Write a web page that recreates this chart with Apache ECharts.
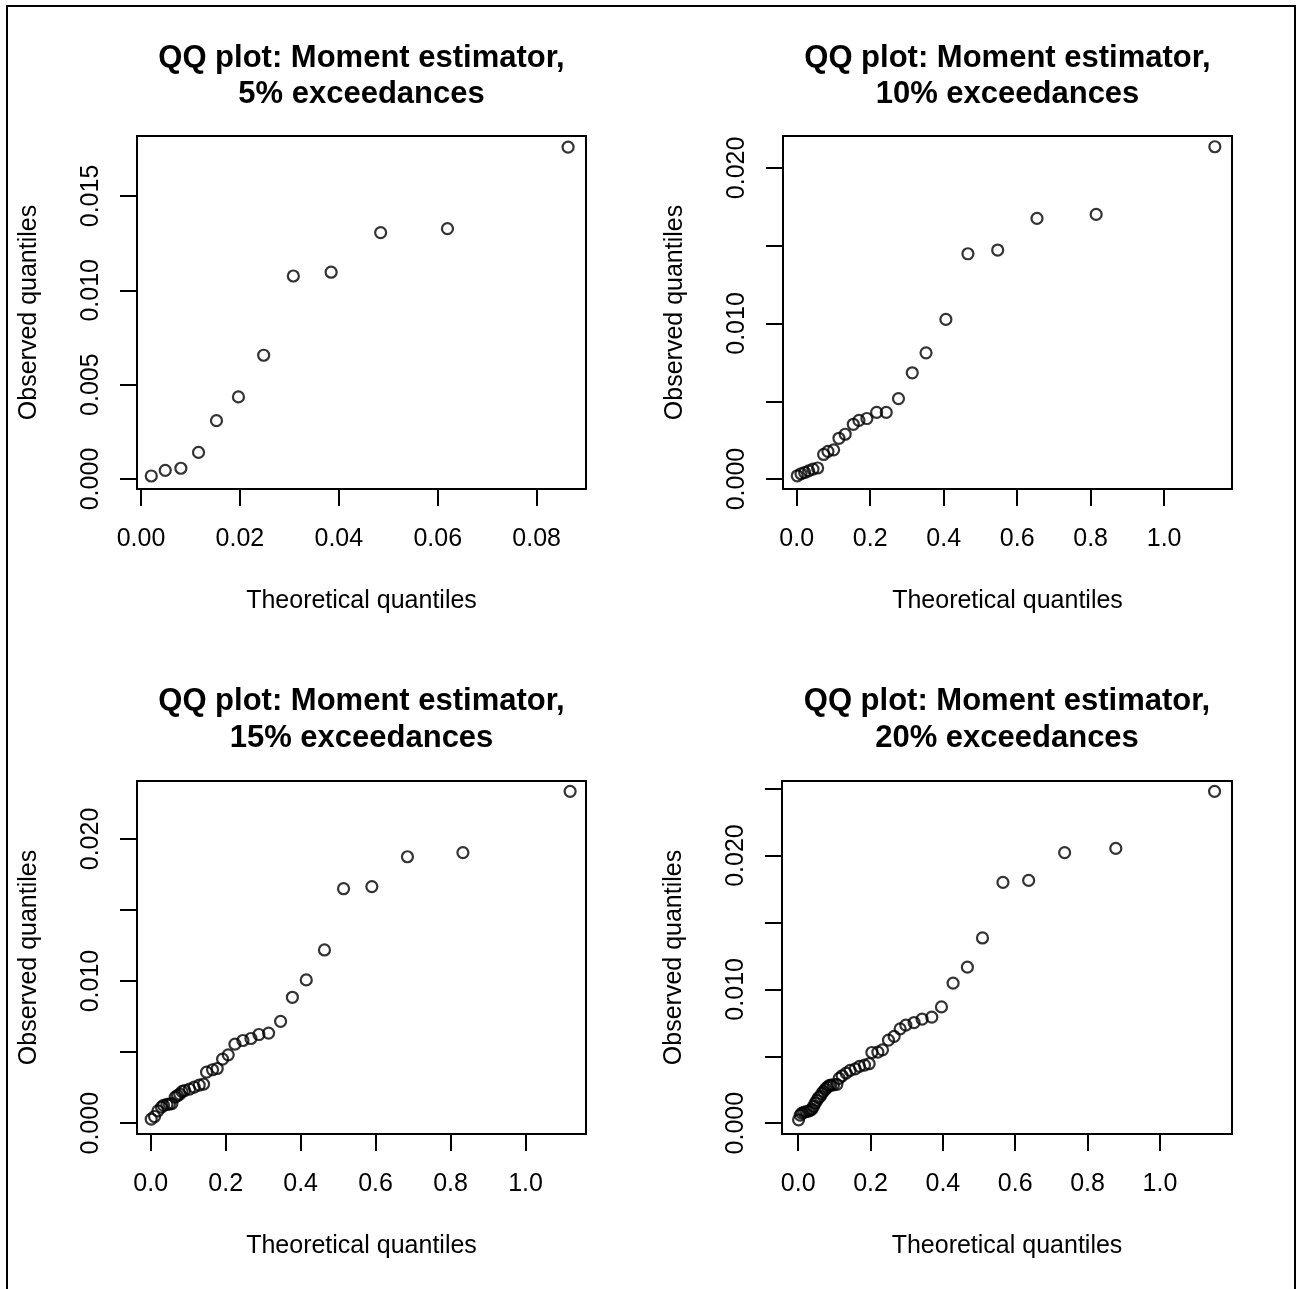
<!DOCTYPE html>
<html>
<head>
<meta charset="utf-8">
<script src="https://cdn.jsdelivr.net/npm/echarts@6/dist/echarts.min.js"></script>
<style>
html,body{margin:0;padding:0;background:#fff;}
#chart{width:1300px;height:1289px;}
</style>
</head>
<body>
<div id="chart"></div>
<script>
// ---- Data ----
const titles = [
  ["QQ plot: Moment estimator,", "5% exceedances"],
  ["QQ plot: Moment estimator,", "10% exceedances"],
  ["QQ plot: Moment estimator,", "15% exceedances"],
  ["QQ plot: Moment estimator,", "20% exceedances"]
];

const theo5 = [0.00208, 0.0049, 0.00806, 0.01163, 0.01526, 0.0197, 0.0248, 0.0308, 0.03844, 0.04845, 0.06196, 0.08635];
const obs5  = [0.00016, 0.00046, 0.00057, 0.00141, 0.00309, 0.00435, 0.00656, 0.01076, 0.01096, 0.01306, 0.01327, 0.01759];

const theo10 = [0.0016, 0.0117, 0.0216, 0.0325, 0.0443, 0.0569, 0.0733, 0.085, 0.1005, 0.115, 0.132, 0.154, 0.1694, 0.191, 0.2175, 0.2437, 0.277, 0.3145, 0.352, 0.406, 0.466, 0.547, 0.654, 0.815, 1.138];
const obs10  = [0.00021, 0.00034, 0.00042, 0.00053, 0.00064, 0.00071, 0.00158, 0.00178, 0.00188, 0.00262, 0.00288, 0.00352, 0.00377, 0.00389, 0.00428, 0.00429, 0.00517, 0.00683, 0.00811, 0.01026, 0.01448, 0.01472, 0.01675, 0.01701, 0.02136];

const theo15 = [0.0013, 0.0102, 0.0192, 0.0289, 0.0342, 0.0432, 0.0498, 0.0565, 0.0654, 0.0716, 0.0775, 0.0835, 0.0903, 0.1036, 0.116, 0.1294, 0.141, 0.149, 0.165, 0.1775, 0.1917, 0.2068, 0.2247, 0.246, 0.2674, 0.2887, 0.3145, 0.3465, 0.378, 0.415, 0.4636, 0.5145, 0.590, 0.685, 0.833, 1.119];
const obs15  = [0.00029, 0.00047, 0.00087, 0.00113, 0.00125, 0.00132, 0.00134, 0.00138, 0.00184, 0.00195, 0.00205, 0.00222, 0.0023, 0.0024, 0.00254, 0.00268, 0.00275, 0.00359, 0.00376, 0.00385, 0.00451, 0.00481, 0.00556, 0.00582, 0.00596, 0.00624, 0.00634, 0.00717, 0.00886, 0.01008, 0.01219, 0.0165, 0.01665, 0.01875, 0.01904, 0.02335];

const theo20 = [0.001, 0.0055, 0.0102, 0.016, 0.0221, 0.028, 0.0331, 0.038, 0.0423, 0.047, 0.0516, 0.056, 0.0608, 0.065, 0.0699, 0.0755, 0.081, 0.0855, 0.0903, 0.0975, 0.1069, 0.1133, 0.1215, 0.1326, 0.1436, 0.1575, 0.1694, 0.1832, 0.1961, 0.2036, 0.2202, 0.233, 0.2495, 0.2652, 0.2818, 0.2975, 0.3204, 0.3425, 0.3693, 0.396, 0.4282, 0.4677, 0.5094, 0.566, 0.637, 0.7365, 0.878, 1.151];
const obs20  = [0.00025, 0.0006, 0.00075, 0.0008, 0.00087, 0.0009, 0.00095, 0.00105, 0.00125, 0.0015, 0.0017, 0.0019, 0.002, 0.0022, 0.00237, 0.00255, 0.0027, 0.0028, 0.00284, 0.00286, 0.0029, 0.00335, 0.00354, 0.00374, 0.00394, 0.00406, 0.00424, 0.00434, 0.00444, 0.00528, 0.00531, 0.00548, 0.00621, 0.00648, 0.00705, 0.00733, 0.00752, 0.00777, 0.00792, 0.00869, 0.01046, 0.01166, 0.01384, 0.01799, 0.01814, 0.02022, 0.02053, 0.0248];

// tick labels
const xTicks5 = [0, 0.02, 0.04, 0.06, 0.08];
const xTicksBig = [0, 0.2, 0.4, 0.6, 0.8, 1.0];
const yTicks5 = [0, 0.005, 0.010, 0.015];
const yLabels5 = [0, 0.005, 0.010, 0.015];
const yTicksBig = [0, 0.005, 0.010, 0.015, 0.020];
const yTicksBig4 = [0, 0.005, 0.010, 0.015, 0.020, 0.025];
const yLabelsBig = [0, 0.010, 0.020];

// ---- Layout ----
const FONT = '"Liberation Sans", Arial, Helvetica, sans-serif';
const panels = [
  {grid:{left:137, top:136, width:449, height:353}, x:[-0.00081, 0.08997], y:[-0.00053, 0.01818],
   xt:xTicks5, xd:2, yt:yTicks5, yl:yLabels5, tx:theo5, ty:obs5, t1:58.5, t2:94.7},
  {grid:{left:783, top:136, width:449, height:353}, x:[-0.0373, 1.1847], y:[-0.00064, 0.02205],
   xt:xTicksBig, xd:1, yt:yTicksBig, yl:yLabelsBig, tx:theo10, ty:obs10, t1:58.5, t2:94.7},
  {grid:{left:137, top:781, width:449, height:353}, x:[-0.0366, 1.1614], y:[-0.00076, 0.02408],
   xt:xTicksBig, xd:1, yt:yTicksBig, yl:yLabelsBig, tx:theo15, ty:obs15, t1:701, t2:738.9},
  {grid:{left:782, top:781, width:450, height:353}, x:[-0.0448, 1.1992], y:[-0.00081, 0.02557],
   xt:xTicksBig, xd:1, yt:yTicksBig4, yl:yLabelsBig, tx:theo20, ty:obs20, t1:701, t2:738.9}
];

const grids = [], xAxes = [], yAxes = [], series = [], graphics = [];
panels.forEach((p, i) => {
  grids.push(Object.assign({show:true, borderColor:'#000', borderWidth:2, backgroundColor:'transparent'}, p.grid));
  xAxes.push({
    type:'value', gridIndex:i, min:p.x[0], max:p.x[1],
    name:'Theoretical quantiles', nameLocation:'middle', nameGap:100,
    nameTextStyle:{fontFamily:FONT, fontSize:25, color:'#000'},
    axisLine:{show:false, onZero:false},
    axisTick:{show:true, inside:false, length:17, customValues:p.xt, lineStyle:{color:'#000', width:2}},
    axisLabel:{show:true, margin:38, customValues:p.xt, fontFamily:FONT, fontSize:25, color:'#000',
      formatter:(v)=>Number(v).toFixed(p.xd)},
    splitLine:{show:false}
  });
  yAxes.push({
    type:'value', gridIndex:i, min:p.y[0], max:p.y[1],
    name:'Observed quantiles', nameLocation:'middle', nameGap:95,
    nameTextStyle:{fontFamily:FONT, fontSize:25, color:'#000'},
    axisLine:{show:false, onZero:false},
    axisTick:{show:true, inside:false, length:17, customValues:p.yt, lineStyle:{color:'#000', width:2}},
    axisLabel:{show:true, margin:33, rotate:90, customValues:p.yl, fontFamily:FONT, fontSize:25, color:'#000',
      formatter:(v)=>Number(v).toFixed(3)},
    splitLine:{show:false}
  });
  series.push({
    type:'scatter', xAxisIndex:i, yAxisIndex:i,
    data:p.tx.map((v, k) => [v, p.ty[k]]),
    symbol:'circle', symbolSize:11,
    itemStyle:{color:'rgba(0,0,0,0)', borderColor:'#000', borderWidth:2.2},
    emphasis:{disabled:true}, silent:true
  });
  const cx = p.grid.left + p.grid.width / 2;
  [[titles[i][0], p.t1], [titles[i][1], p.t2]].forEach(([txt, yy]) => {
    graphics.push({type:'text', x:cx, y:yy, silent:true,
      style:{text:txt, fill:'#000', font:'bold 31px ' + FONT, textAlign:'center', textVerticalAlign:'middle'}});
  });
});
graphics.push({type:'rect', silent:true, shape:{x:7, y:6, width:1288, height:1320},
  style:{fill:'none', stroke:'#000', lineWidth:2}});

const chart = echarts.init(document.getElementById('chart'), null, {renderer:'canvas'});
chart.setOption({
  animation:false,
  backgroundColor:'#fff',
  grid:grids, xAxis:xAxes, yAxis:yAxes, series:series,
  graphic:graphics
});
</script>
</body>
</html>
